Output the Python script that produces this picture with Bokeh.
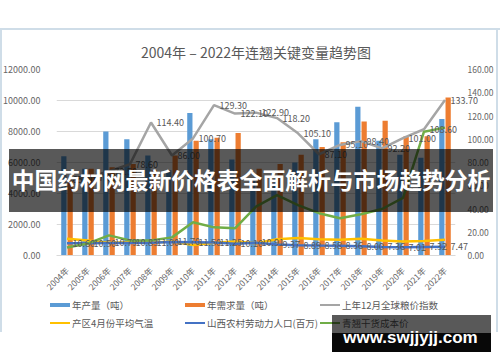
import math
from bokeh.plotting import figure
from bokeh.models import (FactorRange, Range1d, LinearAxis, FixedTicker, NumeralTickFormatter,
                          ColumnDataSource, LabelSet, GridBox, Div, Title)
try:
    from bokeh.models import HTMLLabelSet as PointLabels   # not clipped to the frame
except ImportError:
    PointLabels = LabelSet
from bokeh.transform import dodge
from bokeh.core.properties import value
from bokeh.embed import file_html
from bokeh.resources import INLINE

# ---------------- data ----------------
years = ["2004年", "2005年", "2006年", "2007年", "2008年", "2009年", "2010年", "2011年", "2012年",
         "2013年", "2014年", "2015年", "2016年", "2017年", "2018年", "2019年", "2020年", "2021年", "2022年"]
production = [6400, 5600, 8000, 7500, 6450, 5500, 9200, 7500, 6200, 4800, 4700, 6000, 7500, 8600,
              9600, 7400, 6500, 6300, 8800]
demand = [4800, 5600, 5700, 5900, 5500, 6450, 7400, 7600, 7900, 5600, 5900, 6500, 7000, 7300,
          8650, 8700, 7700, 7700, 10200]
food_index = [65.0, 67.0, 72.5, 78.6, 114.4, 86.0, 100.7, 129.3, 122.1, 122.9, 118.2, 105.1, 87.1,
              95.1, 98.4, 92.2, 101.0, 108.6, 133.7]
april_temp = [14.5, 13.0, 11.0, 11.5, 11.0, 12.0, 9.0, 11.0, 12.0, 10.5, 14.0, 15.0, 14.0, 13.5,
              14.5, 13.0, 12.0, 12.5, 13.5]
labor_pop = [10.60, 10.50, 10.79, 10.83, 11.00, 11.70, 11.50, 11.25, 10.10, 10.91, 9.37, 8.89, 8.58,
             8.36, 8.00, 7.36, 7.01, 7.32, 7.47]
cost_price = [6.9, 10.4, 17.3, 13.0, 13.0, 15.6, 28.6, 24.2, 23.4, 42.0, 52.0, 43.3, 36.4, 32.0,
              35.5, 40.0, 49.5, 106.5, 110.0]
left_ticks = [0, 2000, 4000, 6000, 8000, 10000, 12000]
right_ticks = [0, 20, 40, 60, 80, 100, 120, 140, 160]

series_names = ["年产量（吨）", "年需求量（吨）", "上年12月全球粮价指数",
                "产区4月份平均气温", "山西农村劳动力人口(百万)", "青翘干货成本价"]
title_text = "2004年 – 2022年连翘关键变量趋势图"
banner_text = "中国药材网最新价格表全面解析与市场趋势分析"
watermark_text = "www.swjjyjj.com"

BLUE = "#5B9BD5"
ORANGE = "#ED7D31"
GRAY = "#A5A5A5"
YELLOW = "#FFC000"
DBLUE = "#4472C4"
GREEN = "#70AD47"
series_colors = [BLUE, ORANGE, GRAY, YELLOW, DBLUE, GREEN]
TXT = "#595959"
FONT = "Noto Sans CJK SC"
W, H = 500, 362

src = ColumnDataSource(dict(
    year=years, prod=production, dem=demand, food=food_index, temp=april_temp,
    pop=labor_pop, cost=cost_price,
    food_lbl=[f"{v:.2f}" for v in food_index],
    pop_lbl=[f"{v:.2f}" for v in labor_pop],
))

# ---------------- main chart ----------------
p = figure(width=W, height=H, x_range=FactorRange(*years), y_range=Range1d(0, 12000),
           output_backend="svg", toolbar_location=None,
           min_border_left=53, min_border_right=45, min_border_top=69, min_border_bottom=107,
           background_fill_color="white", border_fill_color="white", outline_line_color=None)
p.extra_y_ranges = {"right": Range1d(0, 160)}
p.title = Title(text=title_text, align="center", offset=-6, standoff=16, text_font_size="14px",
                text_color=TXT, text_font=FONT, text_font_style="normal")

ya = p.yaxis[0]
ya.ticker = FixedTicker(ticks=left_ticks)
ya.formatter = NumeralTickFormatter(format="0.00")
ya.axis_line_color = None
ya.major_tick_line_color = None
ya.minor_tick_line_color = None
ya.major_label_standoff = 10
ya.major_label_text_font_size = "9px"
ya.major_label_text_color = "#666666"
ya.major_label_text_font = FONT

ra = LinearAxis(y_range_name="right", ticker=FixedTicker(ticks=right_ticks),
                formatter=NumeralTickFormatter(format="0.00"))
ra.axis_line_color = None
ra.major_tick_line_color = None
ra.minor_tick_line_color = None
ra.major_label_standoff = 6
ra.major_label_text_font_size = "8.5px"
ra.major_label_text_color = "#666666"
ra.major_label_text_font = FONT
p.add_layout(ra, "right")

xa = p.xaxis[0]
xa.major_label_orientation = math.pi / 4
xa.axis_line_color = "#D9D9D9"
xa.major_tick_line_color = None
xa.minor_tick_line_color = None
xa.major_label_standoff = 7
xa.major_label_text_font_size = "8.5px"
xa.major_label_text_color = "#666666"
xa.major_label_text_font = FONT

p.xgrid.grid_line_color = None
p.ygrid.ticker = FixedTicker(ticks=left_ticks)
p.ygrid.grid_line_color = "#D9D9D9"

p.vbar(x=dodge("year", -0.15, range=p.x_range), top="prod", width=0.25, source=src,
       fill_color=BLUE, line_color=None)
p.vbar(x=dodge("year", 0.15, range=p.x_range), top="dem", width=0.25, source=src,
       fill_color=ORANGE, line_color=None)
p.line(x="year", y="food", source=src, y_range_name="right", line_color=GRAY, line_width=2.5)
p.line(x="year", y="temp", source=src, y_range_name="right", line_color=YELLOW, line_width=2.5)
p.line(x="year", y="pop", source=src, y_range_name="right", line_color=DBLUE, line_width=2.5)
p.line(x="year", y="cost", source=src, y_range_name="right", line_color=GREEN, line_width=2.5)

for col, lbl in (("food", "food_lbl"), ("pop", "pop_lbl")):
    p.add_layout(PointLabels(x="year", y=col, text=lbl, source=src, y_range_name="right", x_offset=6,
                             text_baseline="middle", text_align="left", text_font_size=value("9px"),
                             text_color=TXT, text_font=value(FONT)))

# ---------------- overlay: legend, image border, banner, watermark ----------------
legend_cols = [50, 185, 320]
legend_rows = [305, 323]
swatch_h = [4.5, 4.5, 2.5, 2.5, 2.5, 2.5]
legend_parts = []
for i, (name, c) in enumerate(zip(series_names, series_colors)):
    lx = legend_cols[i % 3]
    cy = legend_rows[i // 3]
    h = swatch_h[i]
    legend_parts.append(
        f'<div style="position:absolute;left:{lx}px;top:{cy - h / 2}px;width:20px;height:{h}px;'
        f'background:{c};"></div>'
        f'<div style="position:absolute;left:{lx + 22}px;top:{cy - 7}px;height:14px;line-height:14px;'
        f"font-family:'{FONT}';font-size:9.5px;color:{TXT};white-space:nowrap;\">{name}</div>")
legend_html = "".join(legend_parts)

overlay_html = f"""
<div style="position:relative;width:{W}px;height:{H}px;pointer-events:none;">
  <div style="position:absolute;left:0;top:28px;width:500px;height:1.5px;background:#CFDDE8;"></div>
  <div style="position:absolute;left:0;top:28px;width:1.5px;height:304px;background:#CFDDE8;"></div>
  <div style="position:absolute;left:496px;top:28px;width:1.5px;height:304px;background:#CFDDE8;"></div>
  {legend_html}
  <div style="position:absolute;left:9px;top:149px;width:484px;height:63px;background:rgba(0,0,0,0.65);"></div>
  <div style="position:absolute;left:0;top:149px;width:502px;height:63px;display:flex;align-items:center;
       justify-content:center;color:#ffffff;font-family:'{FONT}';font-weight:bold;
       font-size:22.8px;white-space:nowrap;">{banner_text}</div>
  <div style="position:absolute;left:332px;top:315px;width:159px;height:18px;background:rgba(0,0,0,0.65);"></div>
  <div style="position:absolute;left:332px;top:333px;width:159px;height:19px;background:rgba(0,0,0,0.97);"></div>
  <div style="position:absolute;left:332px;top:325px;width:157px;height:26px;display:flex;align-items:center;
       justify-content:center;color:#ffffff;font-family:'Liberation Sans';font-weight:bold;
       font-size:17px;white-space:nowrap;">{watermark_text}</div>
</div>
"""
overlay = Div(text=overlay_html, width=W, height=H, margin=0)

layout = GridBox(children=[(p, 0, 0), (overlay, 0, 0)])

open("out.html", "w").write(file_html(layout, INLINE))
